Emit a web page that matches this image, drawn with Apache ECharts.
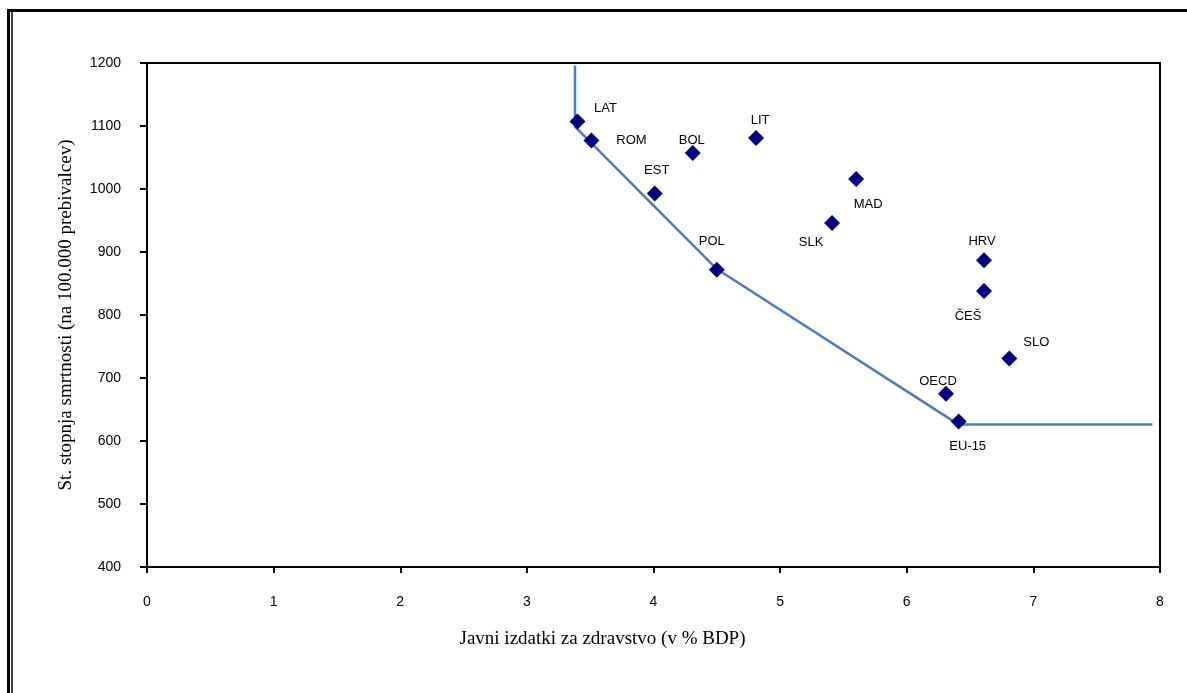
<!DOCTYPE html>
<html>
<head>
<meta charset="utf-8">
<title>Javni izdatki za zdravstvo in stopnja smrtnosti</title>
<script src="https://cdn.jsdelivr.net/npm/echarts@6/dist/echarts.min.js"></script>
<style>
  html, body { margin: 0; padding: 0; background: #fff; }
  #chart { width: 1187px; height: 693px; }
</style>
</head>
<body>
<div id="chart"></div>
<script>
  // podatki (odčitani s slike)
  const countries = ['LAT', 'ROM', 'BOL', 'LIT', 'EST', 'MAD', 'SLK', 'POL', 'HRV', 'ČEŠ', 'SLO', 'OECD', 'EU-15']
  const spending = [3.40, 3.51, 4.31, 4.81, 4.01, 5.60, 5.41, 4.50, 6.61, 6.61, 6.81, 6.31, 6.41]
  const mortality = [1107, 1077, 1057, 1081, 993, 1016, 946, 872, 887, 838, 731, 675, 631]

  // meja učinkovitosti
  const frontierX = [3.38, 3.38, 4.50, 6.41, 7.94]
  const frontierY = [1196, 1099, 873, 626, 626]

  const xTicks = [0, 1, 2, 3, 4, 5, 6, 7, 8]
  const yTicks = [400, 500, 600, 700, 800, 900, 1000, 1100, 1200]

  // zamik oznak glede na točko (px)
  const labelOffsets = [
    [28, -13], [40, 0], [-1, -13], [4, -18], [2, -23], [12, 26], [-21, 19],
    [-5, -28], [-2, -19], [-16, 25], [27, -16], [-8, -12], [9, 25]
  ]

  const chart = echarts.init(document.getElementById('chart'))

  const points = countries.map((name, i) => {
    return {
      name: name,
      value: [spending[i], mortality[i]],
      label: { offset: labelOffsets[i] }
    }
  })

  const option = {
    animation: false,
    backgroundColor: '#fff',
    grid: {
      left: 147,
      top: 63,
      right: 27,
      bottom: 126,
      show: true,
      borderColor: '#000',
      borderWidth: 2
    },
    xAxis: {
      type: 'value',
      min: xTicks[0],
      max: xTicks[xTicks.length - 1],
      interval: 1,
      name: 'Javni izdatki za zdravstvo (v % BDP)',
      nameLocation: 'middle',
      nameGap: 63,
      nameTextStyle: {
        fontFamily: 'Liberation Serif',
        fontSize: 19,
        color: '#000',
        padding: [0, 102, 0, 0]
      },
      axisLine: { lineStyle: { color: '#000', width: 2 } },
      axisTick: { show: true, length: 6, lineStyle: { color: '#000', width: 2 } },
      axisLabel: { margin: 28, fontFamily: 'Liberation Sans', fontSize: 14, color: '#000' },
      splitLine: { show: false }
    },
    yAxis: {
      type: 'value',
      min: yTicks[0],
      max: yTicks[yTicks.length - 1],
      interval: 100,
      name: 'St. stopnja smrtnosti (na 100.000 prebivalcev)',
      nameLocation: 'middle',
      nameGap: 71,
      nameTextStyle: {
        fontFamily: 'Liberation Serif',
        fontSize: 19,
        color: '#000'
      },
      axisLine: { lineStyle: { color: '#000', width: 2 } },
      axisTick: { show: true, length: 7, lineStyle: { color: '#000', width: 2 } },
      axisLabel: {
        margin: 26,
        fontFamily: 'Liberation Sans',
        fontSize: 14,
        color: '#000',
        formatter: (v) => String(v)
      },
      splitLine: { show: false }
    },
    series: [
      {
        name: 'meja',
        type: 'line',
        data: frontierX.map((x, i) => [x, frontierY[i]]),
        showSymbol: false,
        lineStyle: { color: '#4a7ebb', width: 2.5 },
        z: 2
      },
      {
        name: 'države',
        type: 'scatter',
        data: points,
        symbol: 'diamond',
        symbolSize: 16,
        itemStyle: { color: '#000080', opacity: 1 },
        label: {
          show: true,
          position: 'inside',
          formatter: '{b}',
          fontFamily: 'Liberation Sans',
          fontSize: 13,
          color: '#000',
          opacity: 1
        },
        emphasis: { disabled: true },
        z: 3
      }
    ],
    graphic: [
      // zunanji okvir
      { type: 'line', shape: { x1: 7, y1: 10.5, x2: 1187, y2: 10.5 }, style: { stroke: '#000', lineWidth: 3 } },
      { type: 'line', shape: { x1: 8.5, y1: 9, x2: 8.5, y2: 693 }, style: { stroke: '#000', lineWidth: 3 } },
      { type: 'line', shape: { x1: 12, y1: 12, x2: 12, y2: 693 }, style: { stroke: '#000', lineWidth: 1.5 } }
    ]
  }

  chart.setOption(option)
</script>
</body>
</html>
